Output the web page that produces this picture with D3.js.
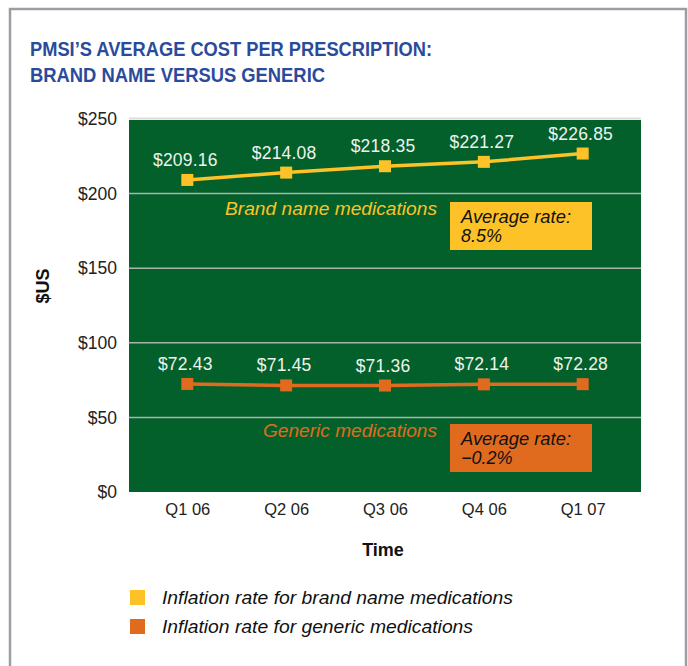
<!DOCTYPE html>
<html>
<head>
<meta charset="utf-8">
<script src="https://cdn.jsdelivr.net/npm/d3@7"></script>
<style>
  body { margin: 0; background: #fff; }
  svg text { font-family: "Liberation Sans", Arial, sans-serif; }
</style>
</head>
<body>
<svg id="chart"></svg>
<script>
// PMSI average cost per prescription: brand name vs generic

const quarters = ["Q1 06", "Q2 06", "Q3 06", "Q4 06", "Q1 07"]
const brandValues = [209.16, 214.08, 218.35, 221.27, 226.85]
const genericValues = [72.43, 71.45, 71.36, 72.14, 72.28]
const yTicks = [0, 50, 100, 150, 200, 250]
const seriesNames = ["Brand name medications", "Generic medications"]
const rateLabels = ["8.5%", "\u22120.2%"]
const legendLabels = ["Inflation rate for brand name medications", "Inflation rate for generic medications"]

let svgWidth = 688
let svgHeight = 666
let margin = { left: 129, right: 47, top: 119, bottom: 174 }

const green = "#03602a"
const yellow = "#fdc227"
const orange = "#e06b1f"

const svg = d3.select("#chart")
    .attr("width", svgWidth)
    .attr("height", svgHeight)

// frame
svg.append("path")
    .attr("d", `M10,${svgHeight} V9 H686 V${svgHeight}`)
    .attr("fill", "none")
    .attr("stroke", "#9a9ea3")
    .attr("stroke-width", 2.5)

// title
const title = svg.append("g").attr("fill", "#2a4b9b")
    .style("font-weight", "bold")
    .style("font-size", "20.5px")
title.append("text").attr("x", 30).attr("y", 56)
    .attr("textLength", 402).attr("lengthAdjust", "spacingAndGlyphs")
    .style("font-family", "'Liberation Sans Narrow', 'Arial Narrow', 'Liberation Sans', sans-serif")
    .text("PMSI\u2019S AVERAGE COST PER PRESCRIPTION:")
title.append("text").attr("x", 30).attr("y", 82)
    .attr("textLength", 295).attr("lengthAdjust", "spacingAndGlyphs")
    .style("font-family", "'Liberation Sans Narrow', 'Arial Narrow', 'Liberation Sans', sans-serif")
    .text("BRAND NAME VERSUS GENERIC")

var x = d3.scalePoint()
    .domain(quarters)
    .range([margin.left, svgWidth - margin.right])
    .padding(0.59)

var y = d3.scaleLinear()
    .domain([0, 250])
    .range([svgHeight - margin.bottom, margin.top])

// green plot background
svg.append("rect")
    .attr("x", margin.left)
    .attr("y", y(250) + 1)
    .attr("width", svgWidth - margin.left - margin.right)
    .attr("height", y(0) - y(250) - 1)
    .attr("fill", green)

svg.append("line")
    .attr("x1", margin.left).attr("x2", svgWidth - margin.right)
    .attr("y1", y(250) - 0.5).attr("y2", y(250) - 0.5)
    .attr("stroke", "#dcdcdc").attr("stroke-width", 2)

// gridlines
svg.append("g")
    .selectAll("line")
    .data(yTicks.filter(d => d > 0 && d < 250))
    .enter()
    .append("line")
    .attr("x1", margin.left).attr("x2", svgWidth - margin.right)
    .attr("y1", d => y(d)).attr("y2", d => y(d))
    .attr("stroke", "#a9b4ab")
    .attr("stroke-width", 1.5)

// y axis
var yAxis = svg.append("g")
    .attr("transform", `translate(${margin.left}, 0)`)
    .call(d3.axisLeft(y).tickValues(yTicks).tickSize(0).tickPadding(12).tickFormat(d => "$" + d))
yAxis.select(".domain").remove()
yAxis.selectAll("text")
    .style("font-size", "17.5px")
    .style("font-family", "'Liberation Sans', Arial, sans-serif")
    .attr("fill", "#222")

// x axis
var xAxis = svg.append("g")
    .attr("transform", `translate(0, ${y(0)})`)
    .call(d3.axisBottom(x).tickSize(0).tickPadding(11))
xAxis.select(".domain").remove()
xAxis.selectAll("text")
    .style("font-size", "16.5px")
    .style("font-family", "'Liberation Sans', Arial, sans-serif")
    .attr("fill", "#222")

svg.append("text")
    .attr("x", 383).attr("y", 556)
    .attr("text-anchor", "middle")
    .style("font-size", "18px")
    .style("font-weight", "bold")
    .attr("fill", "#111")
    .text("Time")

svg.append("text")
    .attr("transform", "translate(49, 286) rotate(-90)")
    .attr("text-anchor", "middle")
    .style("font-size", "18px")
    .style("font-weight", "bold")
    .attr("fill", "#111")
    .text("$US")

// series
var series = [
    { key: "brand", values: brandValues, color: yellow },
    { key: "generic", values: genericValues, color: orange }
]

var line = d3.line()
    .x((d, i) => x(quarters[i]))
    .y(d => y(d))

var g = svg.append("g").selectAll("g.series")
    .data(series)
    .enter()
    .append("g")
    .attr("class", "series")

g.append("path")
    .attr("d", d => line(d.values))
    .attr("fill", "none")
    .attr("stroke", d => d.color)
    .attr("stroke-width", 3.5)

g.selectAll("rect")
    .data(d => d.values.map((v, i) => ({ v: v, i: i, color: d.color })))
    .enter()
    .append("rect")
    .attr("x", d => x(quarters[d.i]) - 6)
    .attr("y", d => y(d.v) - 6)
    .attr("width", 12)
    .attr("height", 12)
    .attr("fill", d => d.color)

g.selectAll("text.val")
    .data(d => d.values.map((v, i) => ({ v: v, i: i })))
    .enter()
    .append("text")
    .attr("class", "val")
    .attr("x", d => x(quarters[d.i]) - 2)
    .attr("y", d => y(d.v) - 14)
    .attr("text-anchor", "middle")
    .style("font-size", "17.5px")
    .style("letter-spacing", "0.2px")
    .attr("fill", "#eef3ee")
    .text(d => "$" + d.v.toFixed(2))

// series labels and rate boxes
var labelY = [215, 437]
var labelW = [212, 174]
var boxY = [202, 424]
series.forEach((s, i) => {
    svg.append("text")
        .attr("x", 437 - labelW[i]).attr("y", labelY[i])
        .attr("textLength", labelW[i]).attr("lengthAdjust", "spacingAndGlyphs")
        .style("font-size", "18px")
        .style("font-style", "italic")
        .attr("fill", s.color)
        .text(seriesNames[i])

    svg.append("rect")
        .attr("x", 450).attr("y", boxY[i])
        .attr("width", 142).attr("height", 48)
        .attr("fill", s.color)

    svg.append("text")
        .attr("x", 461).attr("y", boxY[i] + 21)
        .attr("textLength", 110).attr("lengthAdjust", "spacingAndGlyphs")
        .style("font-size", "18px")
        .style("font-style", "italic")
        .attr("fill", "#111")
        .text("Average rate:")

    svg.append("text")
        .attr("x", 461).attr("y", boxY[i] + 40)
        .style("font-size", "18px")
        .style("font-style", "italic")
        .attr("fill", "#111")
        .text(rateLabels[i])
})

// legend
var legendW = [351, 311]
var legend = svg.append("g")
    .selectAll(".legend")
    .data(series)
    .enter()
    .append("g")
    .attr("class", "legend")
    .attr("transform", (d, i) => `translate(130, ${590 + i * 29})`)

legend.append("rect")
    .attr("width", 15)
    .attr("height", 15)
    .attr("fill", d => d.color)

legend.append("text")
    .attr("x", 32)
    .attr("y", 14)
    .attr("textLength", (d, i) => legendW[i]).attr("lengthAdjust", "spacingAndGlyphs")
    .style("font-size", "18px")
    .style("font-style", "italic")
    .attr("fill", "#111")
    .text((d, i) => legendLabels[i])
</script>
</body>
</html>
